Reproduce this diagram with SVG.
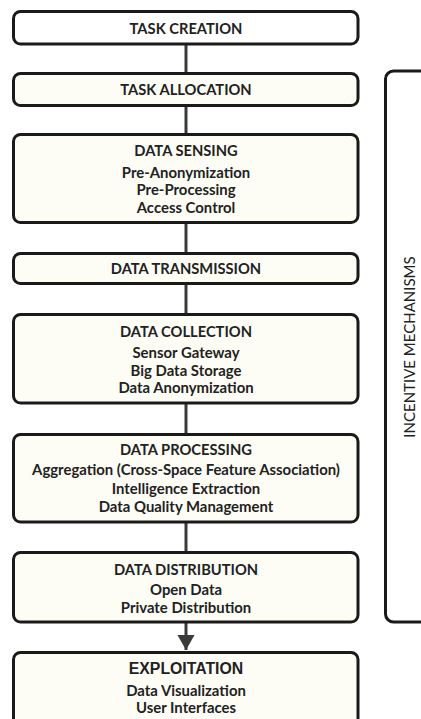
<svg xmlns="http://www.w3.org/2000/svg" width="421" height="719" viewBox="0 0 421 719">
<style>
.box{fill:#fdfdf6;stroke:#1a1a1a;stroke-width:3}
.t{font-family:Lato,"Liberation Sans",sans-serif;font-weight:bold;font-size:14.7px;fill:#222222;text-anchor:middle}
.s{font-family:Lato,"Liberation Sans",sans-serif;font-weight:bold;font-size:14.9px;fill:#222222;text-anchor:middle}
.c{stroke:#3a3a3a;stroke-width:3;fill:none}
</style>
<defs>
<marker id="ah" markerWidth="5" markerHeight="5.7" refX="5" refY="2.85" orient="auto" markerUnits="strokeWidth">
<path d="M0,0 L5,2.85 L0,5.7 Z" fill="#3a3a3a"/>
</marker>
</defs>
<rect width="421" height="719" fill="#ffffff"/>
<g id="connectors">
<line class="c" x1="186" y1="44" x2="186" y2="73.5"/>
<line class="c" x1="186" y1="105.5" x2="186" y2="134.5"/>
<line class="c" x1="186" y1="222.5" x2="186" y2="253.5"/>
<line class="c" x1="186" y1="283.5" x2="186" y2="314.5"/>
<line class="c" x1="186" y1="403" x2="186" y2="434.5"/>
<line class="c" x1="186" y1="522" x2="186" y2="552.5"/>
<line class="c" x1="186" y1="622" x2="186" y2="650" marker-end="url(#ah)"/>
</g>
<g id="task-creation">
<rect class="box" x="13.5" y="11.5" width="344.5" height="32.5" rx="7" style="fill:#ffffff"/>
<text class="t" x="186" y="34">TASK CREATION</text>
</g>
<g id="task-allocation">
<rect class="box" x="13.5" y="73.5" width="344.5" height="32" rx="7"/>
<text class="t" x="186" y="95">TASK ALLOCATION</text>
</g>
<g id="data-sensing">
<rect class="box" x="13.5" y="134.5" width="344.5" height="88" rx="7"/>
<text class="t" x="186" y="156">DATA SENSING</text>
<text class="s" x="186" y="177.5">Pre-Anonymization</text>
<text class="s" x="186" y="195">Pre-Processing</text>
<text class="s" x="186" y="212.5">Access  Control</text>
</g>
<g id="data-transmission">
<rect class="box" x="13.5" y="253.5" width="344.5" height="30" rx="7"/>
<text class="t" x="186" y="274">DATA TRANSMISSION</text>
</g>
<g id="data-collection">
<rect class="box" x="13.5" y="314.5" width="344.5" height="88.5" rx="7"/>
<text class="t" x="186" y="337">DATA COLLECTION</text>
<text class="s" x="186" y="358">Sensor Gateway</text>
<text class="s" x="186" y="375.5">Big Data Storage</text>
<text class="s" x="186" y="393">Data Anonymization</text>
</g>
<g id="data-processing">
<rect class="box" x="13.5" y="434.5" width="344.5" height="87.5" rx="7"/>
<text class="t" x="186" y="455">DATA PROCESSING</text>
<text class="s" x="186" y="475">Aggregation (Cross-Space Feature Association)</text>
<text class="s" x="186" y="494">Intelligence Extraction</text>
<text class="s" x="186" y="512">Data Quality Management</text>
</g>
<g id="data-distribution">
<rect class="box" x="13.5" y="552.5" width="344.5" height="69.5" rx="7"/>
<text class="t" x="186" y="574.5">DATA DISTRIBUTION</text>
<text class="s" x="186" y="595">Open Data</text>
<text class="s" x="186" y="612.5">Private Distribution</text>
</g>
<g id="exploitation">
<rect class="box" x="13.5" y="652.5" width="344.5" height="80" rx="7"/>
<text class="t" x="186" y="674" style="font-family:'Liberation Sans',Arial,sans-serif;font-size:15.8px">EXPLOITATION</text>
<text class="s" x="186" y="696">Data Visualization</text>
<text class="s" x="186" y="713">User Interfaces</text>
</g>
<g id="incentive-mechanisms">
<rect x="385.5" y="71" width="60" height="551" rx="8" fill="none" stroke="#1a1a1a" stroke-width="3"/>
<text x="0" y="0" transform="translate(414.5,347) rotate(-90)" style="font-family:Lato,'Liberation Sans',sans-serif;font-size:15px;fill:#222222;text-anchor:middle">INCENTIVE MECHANISMS</text>
</g>
</svg>
